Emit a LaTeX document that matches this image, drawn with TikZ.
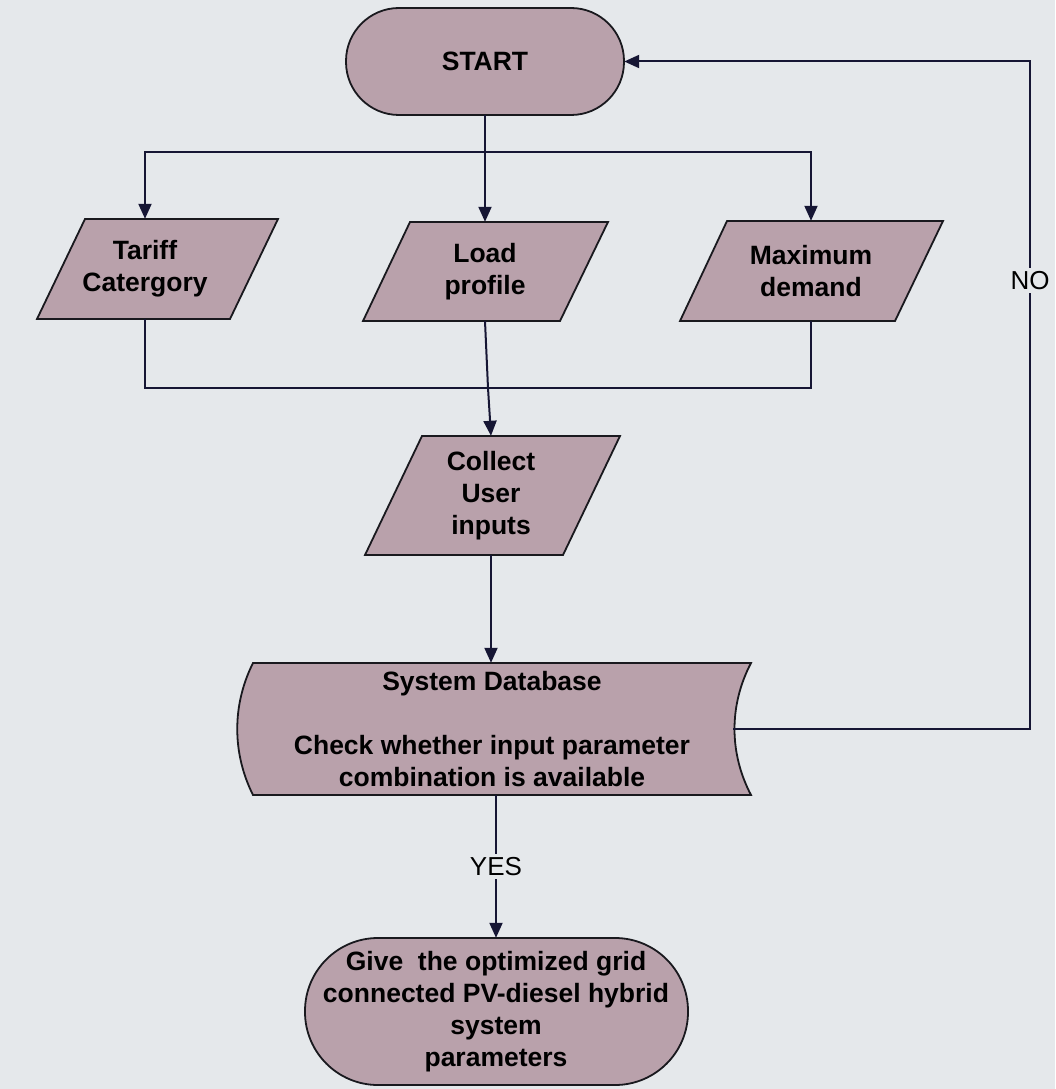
\documentclass[tikz,border=0pt]{standalone}
\usepackage{fontspec}
\setmainfont{Liberation Sans}
\usetikzlibrary{arrows.meta}
\definecolor{bgc}{RGB}{229,232,235}
\definecolor{boxfill}{RGB}{185,161,171}
\definecolor{linec}{RGB}{22,22,52}
\definecolor{edgec}{RGB}{25,25,30}
\tikzset{
  shapebox/.style={fill=boxfill, draw=edgec, line width=1.8pt, line join=miter},
  txt/.style={inner sep=0pt, align=center, font=\fontsize{26.5}{32}\selectfont\bfseries},
  conn/.style={draw=linec, line width=2pt},
  arr/.style={conn, -{Triangle[length=15pt,width=13pt]}},
  lbl/.style={fill=bgc, inner sep=3pt, font=\fontsize{26}{30}\selectfont}
}
\begin{document}
\begin{tikzpicture}[x=1pt,y=-1pt]
\fill[bgc] (0,0) rectangle (1055,1089);
\useasboundingbox (0,0) rectangle (1055,1089);

% shapes
\draw[shapebox, rounded corners=53pt] (346,8) rectangle (624,115);
\draw[shapebox] (85,219) -- (278,219) -- (230,319) -- (37,319) -- cycle;
\draw[shapebox] (410,222) -- (608,222) -- (560,321) -- (363,321) -- cycle;
\draw[shapebox] (727,221) -- (943,221) -- (895,321) -- (680,321) -- cycle;
\draw[shapebox] (422,436) -- (620,436) -- (563,555) -- (365,555) -- cycle;
\draw[shapebox] (253,663) -- (751,663) .. controls (729,705) and (729,753) .. (751,795)
  -- (253,795) .. controls (232,753) and (232,705) .. (253,663) -- cycle;
\draw[shapebox, rounded corners=73pt] (305,938) rectangle (688,1085);

% text nodes
\node[txt, minimum width=278pt, minimum height=107pt] (start) at (485,61.5) {START};
\node[txt, minimum height=100pt] (tariff) at (145,269) {Tariff\\Catergory};
\node[txt, minimum height=99pt] (load) at (485,271.5) {Load\\profile};
\node[txt, minimum height=100pt] (maxd) at (811,271) {Maximum\\demand};
\node[txt, minimum height=119pt] (collect) at (491,495.5) {Collect\\User\\inputs};
\node[txt, minimum width=482pt, minimum height=132pt] (db) at (492,729)
  {System Database\\[32pt]Check whether input parameter\\combination is available};
\node[txt, minimum height=147pt] (endn) at (496,1011.5)
  {Give\ \ the optimized grid\\connected PV-diesel hybrid\\system\\parameters};

% connectors
\coordinate (split) at (485,152);
\coordinate (merge) at (488,388);
\coordinate (loopA) at (1030,729);
\coordinate (loopB) at (1030,61.5);

\draw[conn] (start.south) -- (split);
\draw[arr] (split) -- (load.north);
\draw[arr] (split) -| (tariff.north);
\draw[arr] (split) -| (maxd.north);

\draw[conn] (tariff.south) |- (merge) -| (maxd.south);
\draw[arr] (load.south) -- (merge) -- (collect.north);

\draw[arr] (collect.south) -- (collect.south |- db.north);
\draw[arr] (endn.north |- db.south) -- node[lbl] {YES} (endn.north);

\draw[arr] (db.east) -- (loopA) -- node[lbl, pos=0.672] {NO} (loopB) -- (start.east);
\end{tikzpicture}
\end{document}
